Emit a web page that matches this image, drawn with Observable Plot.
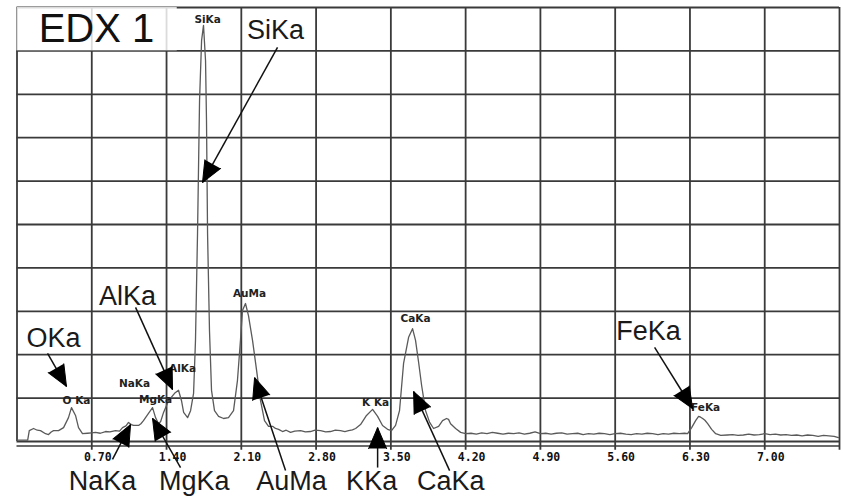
<!DOCTYPE html>
<html><head><meta charset="utf-8">
<script src="https://cdn.jsdelivr.net/npm/d3@7"></script>
<script src="https://cdn.jsdelivr.net/npm/@observablehq/plot@0.6"></script>
<style>html,body{margin:0;padding:0;background:#fff}#chart svg{display:block}</style>
</head><body><div id="chart"></div>
<script>
// ---- spectrum (keV, counts in % of full scale) ----
const energy = [0.00,0.10,0.115,0.155,0.19,0.22,0.267,0.295,0.32,0.342,0.389,0.436,0.482,0.51,0.548,0.576,0.613,0.66,0.70,0.735,0.78,0.829,0.87,0.922,0.96,0.988,1.02,1.044,1.07,1.091,1.138,1.16,1.184,1.231,1.269,1.297,1.325,1.345,1.372,1.419,1.475,1.512,1.54,1.56,1.597,1.625,1.653,1.671,1.69,1.709,1.728,1.746,1.765,1.774,1.784,1.802,1.821,1.849,1.887,1.934,1.98,2.027,2.064,2.092,2.111,2.139,2.167,2.205,2.243,2.28,2.317,2.355,2.393,2.42,2.449,2.486,2.52,2.561,2.60,2.655,2.70,2.748,2.79,2.842,2.89,2.935,2.98,3.029,3.07,3.104,3.14,3.17,3.216,3.272,3.329,3.376,3.422,3.469,3.506,3.544,3.581,3.619,3.666,3.703,3.731,3.76,3.788,3.825,3.863,3.90,3.947,3.984,4.021,4.04,4.059,4.106,4.153,4.20,4.25,4.30,4.35,4.40,4.45,4.50,4.55,4.60,4.65,4.70,4.75,4.80,4.85,4.90,4.95,5.00,5.05,5.10,5.15,5.20,5.25,5.30,5.35,5.40,5.45,5.50,5.55,5.60,5.65,5.70,5.75,5.80,5.85,5.90,5.95,6.00,6.05,6.10,6.15,6.20,6.25,6.278,6.316,6.353,6.381,6.40,6.419,6.44,6.466,6.503,6.541,6.588,6.65,6.70,6.75,6.80,6.85,6.90,6.95,7.00,7.05,7.10,7.15,7.20,7.25,7.30,7.35,7.40,7.45,7.50,7.55,7.60,7.65,7.69];
const counts = [0.3,0.3,2.5,3.0,2.6,2.5,1.8,1.6,2.2,2.5,2.5,3.2,5.5,7.8,6.0,3.2,1.8,1.9,2.0,2.1,1.9,2.3,2.2,2.5,2.4,3.2,3.6,4.4,3.9,3.7,3.7,4.1,4.8,6.5,7.8,5.5,4.1,4.6,6.7,9.4,11.1,11.8,9.4,6.7,5.5,7.1,11.1,23.3,47.9,78.6,92.4,95.9,87.8,74.0,47.9,25.6,11.8,7.1,5.8,5.3,5.5,7.1,14.1,23.3,30.2,31.8,29.0,23.3,16.4,9.4,4.8,3.5,3.5,3.0,2.8,2.3,2.6,2.1,2.4,2.5,2.2,2.3,2.6,2.5,2.2,2.3,2.6,2.5,2.3,2.5,2.7,3.0,3.9,6.0,7.4,5.8,3.7,2.8,2.5,3.7,7.1,18.0,24.0,26.0,23.3,18.2,12.9,7.1,4.4,3.0,3.5,4.8,5.3,5.1,4.1,3.0,2.1,1.8,1.9,1.7,2.0,1.8,2.1,1.9,1.7,1.9,1.8,2.0,1.7,1.9,2.2,1.8,1.9,1.7,1.9,2.0,1.7,1.8,1.9,1.6,1.8,1.7,1.9,1.8,1.6,1.8,1.9,1.7,1.6,1.8,1.7,1.9,1.8,1.6,1.8,1.7,1.9,1.8,1.9,1.8,3.2,4.8,5.8,5.6,5.3,4.9,4.1,2.8,1.8,1.4,1.5,1.6,1.4,1.5,1.7,1.5,1.6,1.8,1.6,1.7,1.5,1.6,1.4,1.5,1.3,1.5,1.4,1.2,1.4,1.3,1.2,0.9];

// ---- axes ----
const xTickValues = [0.7,1.4,2.1,2.8,3.5,4.2,4.9,5.6,6.3,7.0];
const xTickLabels = ["0.70","1.40","2.10","2.80","3.50","4.20","4.90","5.60","6.30","7.00"];
const yGridValues = [10,20,30,40,50,60,70,80,90];
const xDomain = [0, 7.7];
const yDomain = [0, 100];

// ---- small instrument peak labels ----
const peakNames  = ["SiKa","AuMa","CaKa","K Ka","O Ka","NaKa","MgKa","AlKa","FeKa"];
const peakEnergy = [1.784,2.177,3.731,3.357,0.557,1.10,1.297,1.55,6.447];
const peakCounts = [97.2,34.1,28.3,9.0,9.4,13.4,9.7,16.8,7.8];

// ---- large callout labels with arrows ----
const calloutNames  = ["SiKa","OKa","AlKa","FeKa","NaKa","MgKa","AuMa","KKa","CaKa"];
const calloutEnergy = [2.42,0.342,1.035,5.913,0.80,1.66,2.57,3.32,4.06];
const calloutCounts = [94.7,23.7,33.4,25.3,-9.2,-9.2,-9.2,-9.2,-9.2];
const tailEnergy = [2.439,0.286,1.11,5.969,0.894,1.531,2.514,3.376,4.05];
const tailCounts = [90.8,20.3,30.9,21.7,-4.1,-6.0,-6.7,-6.0,-6.7];
const tipEnergy  = [1.737,0.463,1.456,6.325,1.063,1.269,2.224,3.376,3.713];
const tipCounts  = [59.7,12.7,12.0,7.6,3.9,5.3,14.7,3.2,11.5];

const titleText = "EDX 1";
const titleEnergy = 0.744, titleCounts = 94.9;

// ---- build ----
const W = 844, H = 497;
const mL = 16.5, mR = 5, mT = 7, mB = 56;
const spectrum = energy.map((e, i) => ({e, c: counts[i]}));
const peaks = peakNames.map((n, i) => ({n, e: peakEnergy[i], c: peakCounts[i]}));
const sx = Plot.scale({x: {domain: xDomain, range: [mL, W - mR]}});
const sy = Plot.scale({y: {domain: yDomain, range: [H - mB, mT]}});
const callouts = calloutNames.map((n, i) => {
  const dx = sx.apply(tipEnergy[i]) - sx.apply(tailEnergy[i]);
  const dy = sy.apply(tipCounts[i]) - sy.apply(tailCounts[i]);
  return {n, le: calloutEnergy[i], lc: calloutCounts[i],
          e1: tailEnergy[i], c1: tailCounts[i], e2: tipEnergy[i], c2: tipCounts[i],
          angle: Math.atan2(dx, -dy) * 180 / Math.PI};
});
const ticks = xTickValues.map((v, i) => ({v, t: xTickLabels[i]}));

const gridColor = "#3a3a3a";
const plot = Plot.plot({
  width: W, height: H,
  marginLeft: mL, marginRight: mR, marginTop: mT, marginBottom: mB,
  x: {domain: xDomain, axis: null},
  y: {domain: yDomain, axis: null},
  style: {background: "#fff"},
  marks: [
    Plot.ruleY(yGridValues, {stroke: gridColor, strokeWidth: 1.8}),
    Plot.ruleX(xTickValues, {y1: -2, y2: 100, stroke: gridColor, strokeWidth: 1.8}),
    Plot.ruleX([xDomain[1]], {y1: -2, y2: 100, stroke: gridColor, strokeWidth: 1.8}),
    Plot.ruleX([xDomain[0]], {y1: 0, y2: 100, stroke: gridColor, strokeWidth: 1.8}),
    Plot.ruleY([100, 0], {stroke: gridColor, strokeWidth: 1.8}),
    Plot.ruleY([-1.05], {stroke: gridColor, strokeWidth: 1.5}),
    Plot.rect([0], {x1: 0, x2: 1.5, y1: 90, y2: 100, fill: "#fff", fillOpacity: 0.82}),
    Plot.text([titleText], {x: titleEnergy, y: titleCounts, text: d => d, fontFamily: "Liberation Sans, Arial", fontSize: 40, fill: "#111"}),
    Plot.line(spectrum, {x: "e", y: "c", stroke: "#5a5a5a", strokeWidth: 1.3}),
    Plot.text(peaks, {x: "e", y: "c", text: "n", fontFamily: "DejaVu Sans", fontWeight: "bold", fontSize: 10.5, fill: "#222"}),
    Plot.link(callouts, {x1: "e1", y1: "c1", x2: "e2", y2: "c2", stroke: "#111", strokeWidth: 1.5}),
    Plot.vector(callouts, {x: "e2", y: "c2", rotate: "angle", length: 21, r: 9, shape: "spike", anchor: "end", fill: "#000", stroke: "#000", strokeWidth: 1}),
    Plot.text(callouts, {x: "le", y: "lc", text: "n", fontFamily: "Liberation Sans, Arial", fontSize: 27, fill: "#1a1a1a"}),
    Plot.text(ticks, {x: "v", text: "t", frameAnchor: "bottom", dy: 19, dx: 6, fontFamily: "DejaVu Sans Mono", fontWeight: "bold", fontSize: 11.5, fill: "#111"})
  ]
});
document.getElementById("chart").appendChild(plot);
</script>
</body></html>
